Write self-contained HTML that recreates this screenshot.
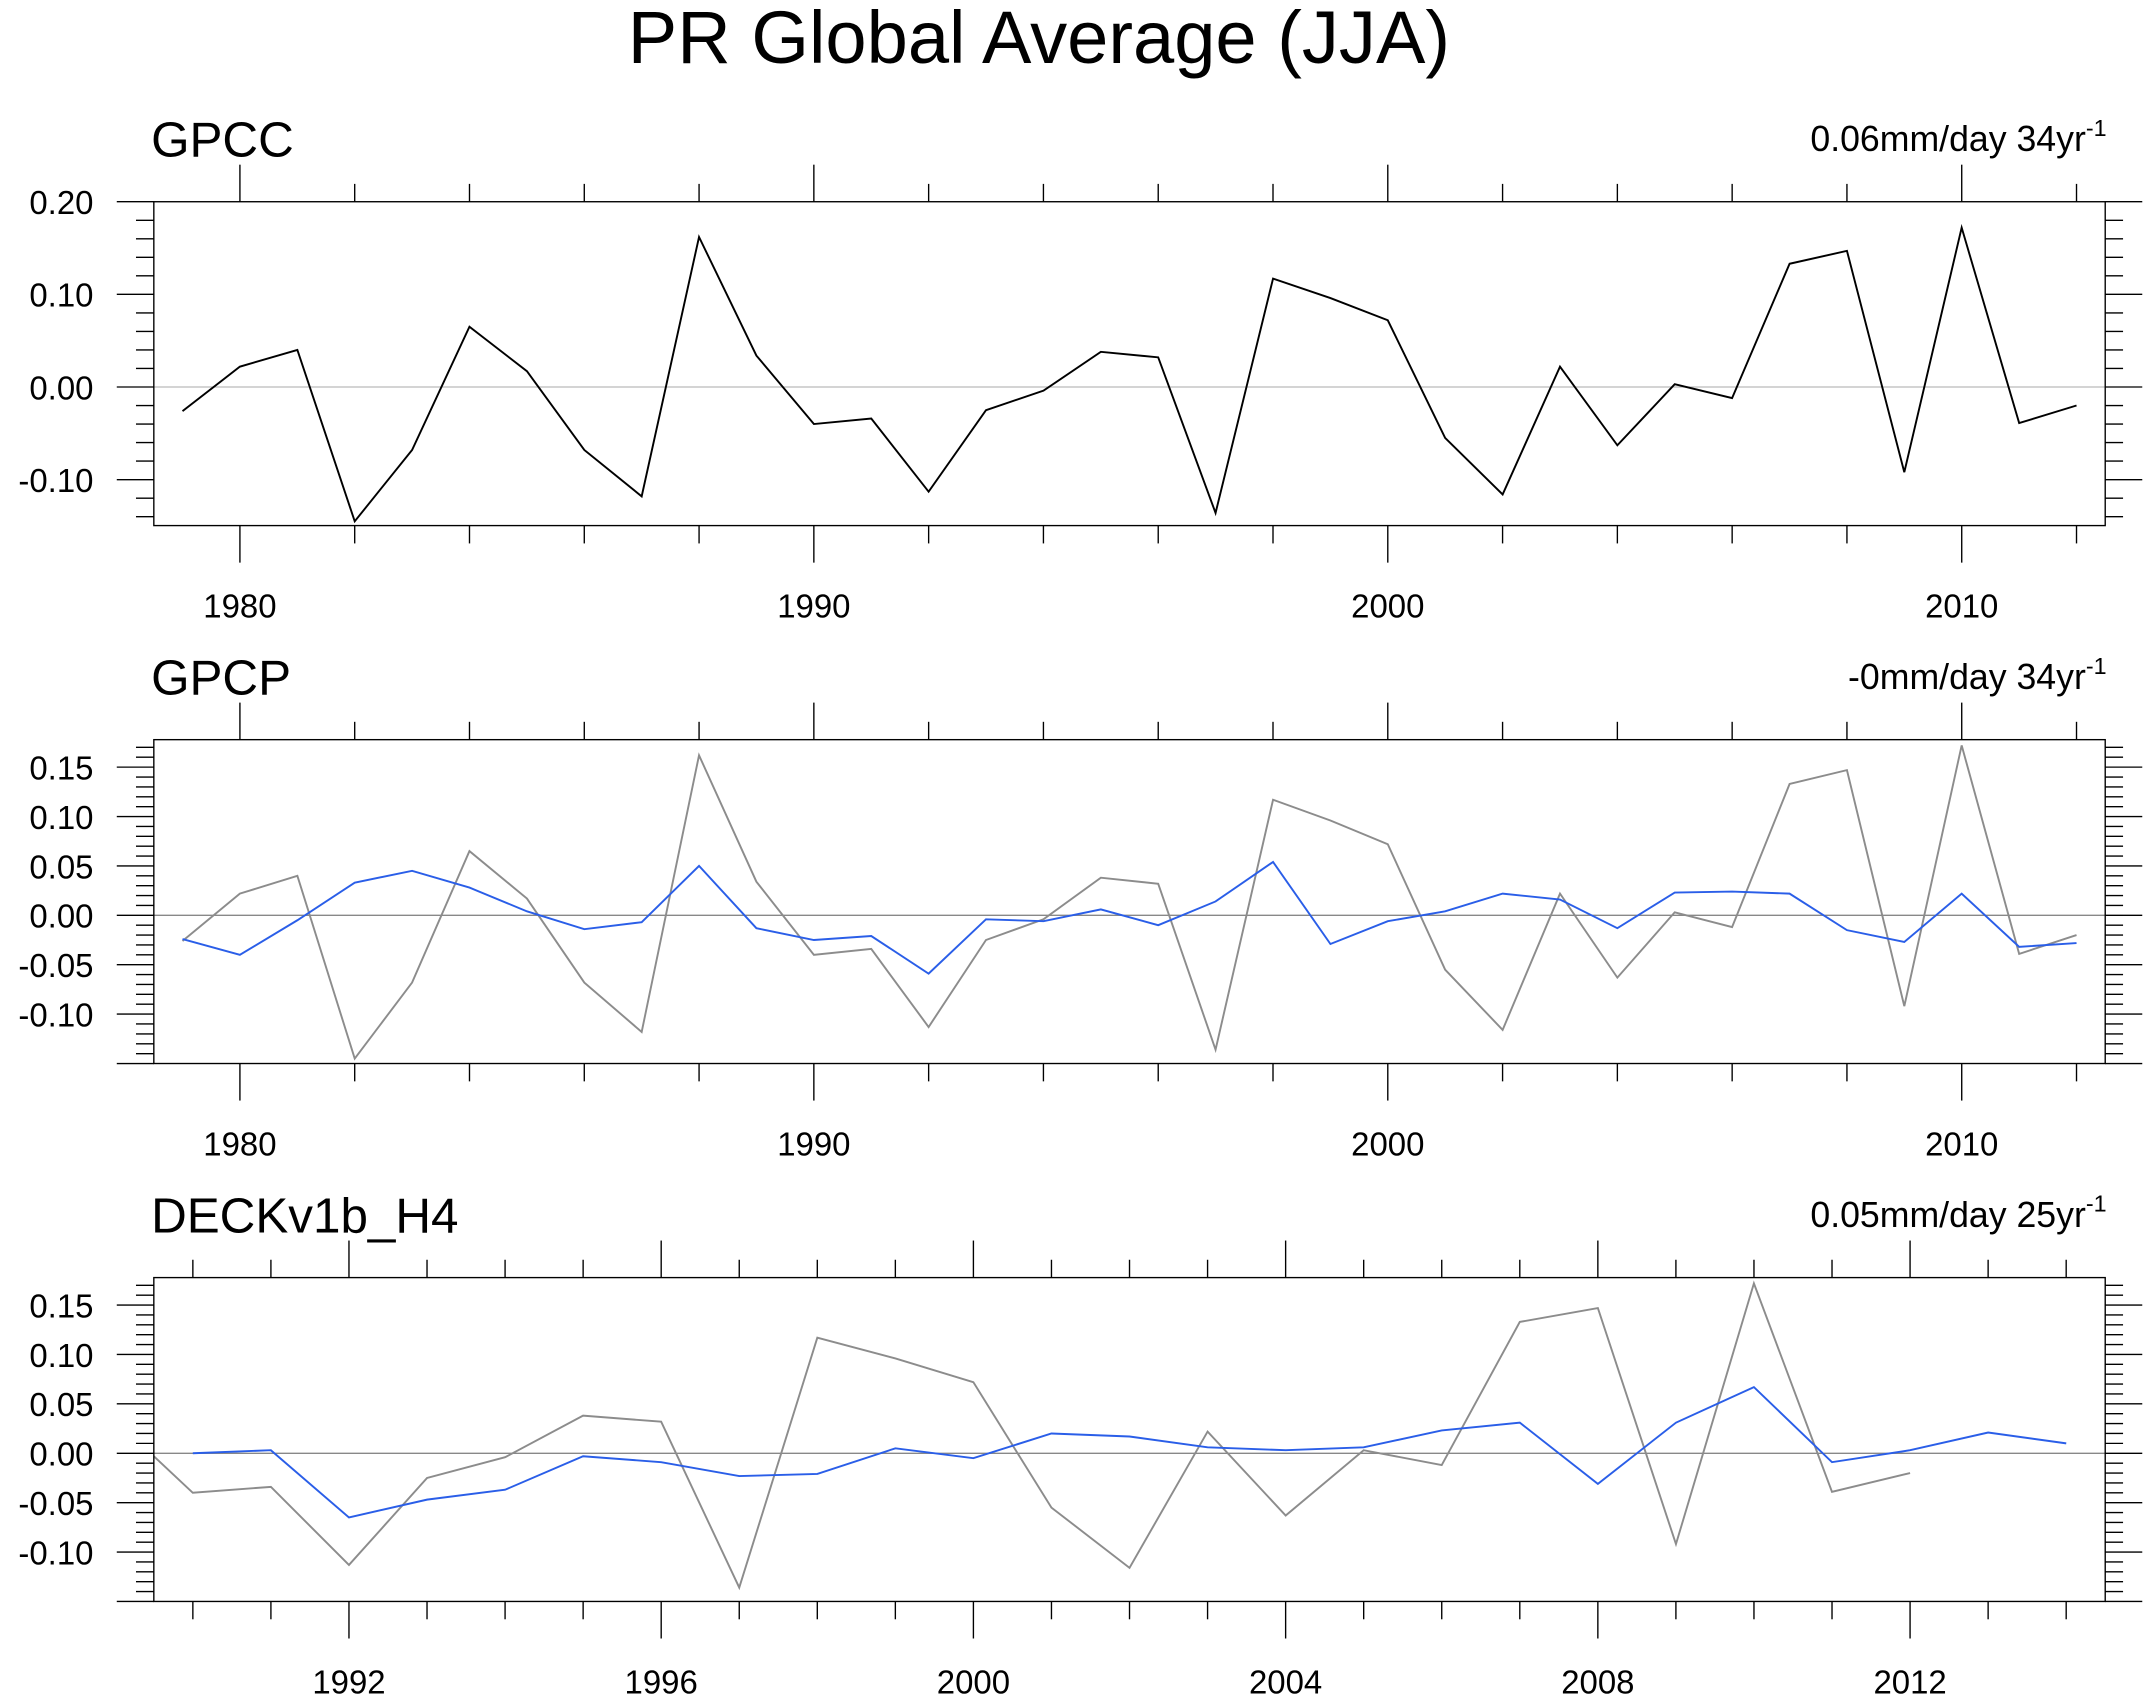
<!DOCTYPE html>
<html><head><meta charset="utf-8"><style>
html,body{margin:0;padding:0;background:#fff}
svg{display:block;font-family:"Liberation Sans",Arial,sans-serif}
</style></head><body>
<svg id="chart" width="2152" height="1703" viewBox="0 0 1568 1241" xmlns="http://www.w3.org/2000/svg">
<text x="757" y="46" text-anchor="middle" font-size="54">PR Global Average (JJA)</text>
</svg>
<script>
const gpccYears=[1979,1980,1981,1982,1983,1984,1985,1986,1987,1988,1989,1990,1991,1992,1993,1994,1995,1996,1997,1998,1999,2000,2001,2002,2003,2004,2005,2006,2007,2008,2009,2010,2011,2012];
const gpccVals=[-0.026,0.022,0.04,-0.145,-0.068,0.065,0.017,-0.068,-0.118,0.162,0.034,-0.04,-0.034,-0.113,-0.025,-0.004,0.038,0.032,-0.136,0.117,0.096,0.072,-0.055,-0.116,0.022,-0.063,0.003,-0.012,0.133,0.147,-0.092,0.172,-0.039,-0.02];
const gpcpVals=[-0.024,-0.04,-0.005,0.033,0.045,0.028,0.004,-0.014,-0.007,0.05,-0.013,-0.025,-0.021,-0.059,-0.004,-0.006,0.006,-0.01,0.014,0.054,-0.029,-0.006,0.004,0.022,0.016,-0.013,0.023,0.024,0.022,-0.015,-0.027,0.022,-0.032,-0.028];
const deckYears=[1990,1991,1992,1993,1994,1995,1996,1997,1998,1999,2000,2001,2002,2003,2004,2005,2006,2007,2008,2009,2010,2011,2012,2013,2014];
const deckVals=[0.0,0.003,-0.065,-0.047,-0.037,-0.003,-0.009,-0.023,-0.021,0.005,-0.005,0.02,0.017,0.006,0.003,0.006,0.023,0.031,-0.031,0.031,0.067,-0.009,0.003,0.021,0.01];
const panel1Ticks=["0.20","0.10","0.00","-0.10"];
const panel23Ticks=["0.15","0.10","0.05","0.00","-0.05","-0.10"];

const svg=document.getElementById('chart');
const NS='http://www.w3.org/2000/svg';
function mk(tag,attrs,parent){const e=document.createElementNS(NS,tag);for(const k in attrs)e.setAttribute(k,attrs[k]);(parent||svg).appendChild(e);return e;}
const X0=112,X1=1534;

function panel(o){
  const g=mk('g',{});
  
  
  const {top,bot,ymin,ymax,xmin,xmax}=o;
  const sx=v=>X0+(v-xmin)/(xmax-xmin)*(X1-X0);
  const sy=v=>bot-(v-ymin)/(ymax-ymin)*(bot-top);
  const cid='clip-'+o.name;
  const cp=mk('clipPath',{id:cid},g);mk('rect',{x:X0,y:top,width:X1-X0,height:bot-top},cp);
  const z=mk('line',{x1:X0,x2:X1,y1:sy(0),y2:sy(0),stroke:o.zeroColor,'stroke-width':1},g);
  
  
  o.series.forEach(s=>{
    const pts=s.years.map((y,i)=>sx(y).toFixed(1)+','+sy(s.vals[i]).toFixed(1)).join(' ');
    const p=mk('polyline',{points:pts,fill:'none',stroke:s.color,'stroke-width':1.4,'clip-path':'url(#'+cid+')'},g);
    
    
  });
  const f=mk('rect',{x:X0,y:top,width:X1-X0,height:bot-top,fill:'none',stroke:'#000','stroke-width':1},g);
  
  
  let start=o.xmajorBase;
  while(start-o.xminor>=xmin)start-=o.xminor;
  for(let yr=start;yr<=xmax;yr+=o.xminor){
    const major=(((yr-o.xmajorBase)%o.xmajor)+o.xmajor)%o.xmajor===0;
    const L=major?27:13,x=sx(yr);
    mk('line',{x1:x,x2:x,y1:top,y2:top-L,stroke:'#000','stroke-width':1},g);
    mk('line',{x1:x,x2:x,y1:bot,y2:bot+L,stroke:'#000','stroke-width':1},g);
    if(major){const t=mk('text',{x:x,y:bot+67,'text-anchor':'middle','font-size':24},g);t.textContent=yr;
      
      }
  }
  const steps=Math.round((ymax-ymin)/o.yminor)+2;
  for(let i=-2;i<steps+2;i++){
    const v=Math.round((Math.floor(ymin/o.yminor)+i)*o.yminor*1000)/1000;
    if(v<ymin-1e-9||v>ymax+1e-9)continue;
    const major=Math.abs(Math.round(v/o.ymajor)*o.ymajor-v)<1e-6;
    const L=major?27:13,y=sy(v);
    mk('line',{x1:X0,x2:X0-L,y1:y,y2:y,stroke:'#000','stroke-width':1},g);
    mk('line',{x1:X1,x2:X1+L,y1:y,y2:y,stroke:'#000','stroke-width':1},g);
  }
  o.ticks.forEach(lbl=>{
    const t=mk('text',{x:68,y:sy(parseFloat(lbl))+9,'text-anchor':'end','font-size':24},g);t.textContent=lbl;
    
    
  });
  const tt=mk('text',{x:110,y:top-33,'font-size':36},g);tt.textContent=o.title;
  
  
  const tr=mk('text',{x:1535,y:top-37,'text-anchor':'end','font-size':26},g);
  tr.textContent=o.trend;
  const sup=mk('tspan',{'font-size':17,dy:-11},tr);sup.textContent='-1';
  
  
}
panel({name:'gpcc',title:'GPCC',trend:'0.06mm/day 34yr',top:147,bot:383,ymin:-0.1496,ymax:0.2,xmin:1978.5,xmax:2012.5,
  xmajor:10,xmajorBase:1980,xminor:2,ymajor:0.1,yminor:0.02,ticks:panel1Ticks,zeroColor:'#bbb',
  series:[{name:'gpcc-line',years:gpccYears,vals:gpccVals,color:'#000'}]});
panel({name:'gpcp',title:'GPCP',trend:'-0mm/day 34yr',top:539,bot:775,ymin:-0.15,ymax:0.1778,xmin:1978.5,xmax:2012.5,
  xmajor:10,xmajorBase:1980,xminor:2,ymajor:0.05,yminor:0.01,ticks:panel23Ticks,zeroColor:'#888',
  series:[{name:'gpcc-reference-line',years:gpccYears,vals:gpccVals,color:'#8c8c8c'},{name:'gpcp-line',years:gpccYears,vals:gpcpVals,color:'#2a5ee8'}]});
panel({name:'deck',title:'DECKv1b_H4',trend:'0.05mm/day 25yr',top:931,bot:1167,ymin:-0.15,ymax:0.1778,xmin:1989.5,xmax:2014.5,
  xmajor:4,xmajorBase:1992,xminor:1,ymajor:0.05,yminor:0.01,ticks:panel23Ticks,zeroColor:'#888',
  series:[{name:'gpcc-reference-line',years:gpccYears,vals:gpccVals,color:'#8c8c8c'},{name:'deck-line',years:deckYears,vals:deckVals,color:'#2a5ee8'}]});
</script>
</body></html>
